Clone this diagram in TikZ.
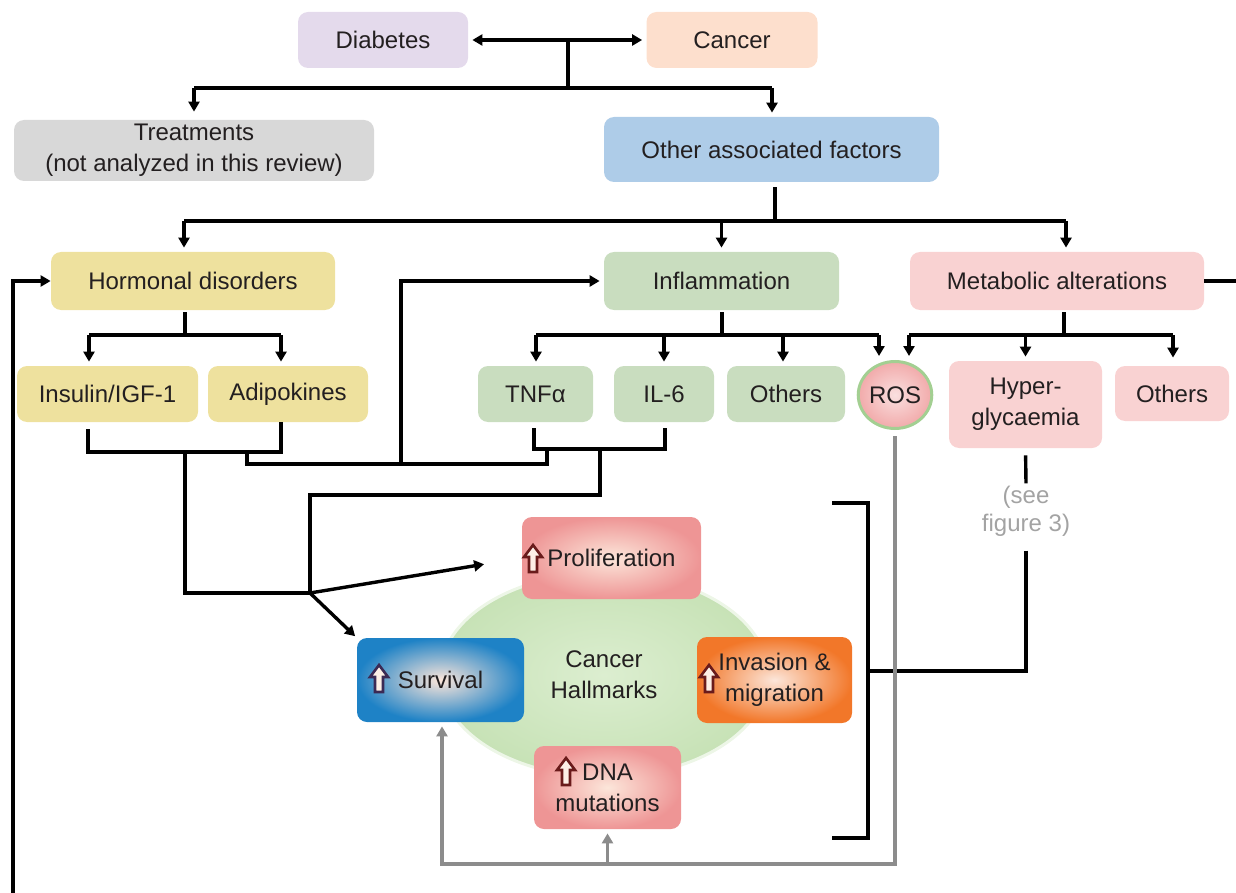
\documentclass[tikz,border=0pt]{standalone}
\usepackage{fontspec}
\setmainfont{Liberation Sans}
\usetikzlibrary{calc}
\usetikzlibrary{arrows.meta}
\usetikzlibrary{shapes.geometric}

\definecolor{txt}{HTML}{231F20}
\definecolor{diabc}{HTML}{E4DAEC}
\definecolor{cancc}{HTML}{FDDFCD}
\definecolor{treatc}{HTML}{D8D8D8}
\definecolor{otherc}{HTML}{AECCE8}
\definecolor{hormc}{HTML}{EEE19E}
\definecolor{inflc}{HTML}{C9DDBF}
\definecolor{metabc}{HTML}{F9D2D2}
\definecolor{rosline}{HTML}{A3CF92}
\definecolor{hallin}{HTML}{DCEED0}
\definecolor{hallout}{HTML}{C7E2B6}
\definecolor{pinkout}{HTML}{EE9595}
\definecolor{bluout}{HTML}{1E82C6}
\definecolor{orout}{HTML}{F27729}
\definecolor{palein}{HTML}{FCE6DA}
\definecolor{arrdark}{HTML}{6A1B1B}
\definecolor{arrpurp}{HTML}{3B2A55}
\definecolor{arrfill}{HTML}{FDEFE6}
\definecolor{gline}{HTML}{8C8C8C}
\definecolor{seec}{HTML}{A3A3A3}

\tikzset{
 box/.style={rounded corners=5pt, inner sep=0pt, align=center, text=txt, font=\fontsize{12}{15.5}\selectfont},
 mark box/.style={box, inner color=palein},
 conn/.style={black, line width=1.7pt},
 arr/.style={conn, -{Triangle[length=5pt,width=5.5pt]}, shorten >=2pt},
 gconn/.style={gline, line width=1.7pt},
 garr/.style={gconn, -{Triangle[length=5pt,width=5.5pt]}, shorten >=2pt},
 pics/uparr/.style 2 args={code={
  \filldraw[draw=#1, fill=#2, line width=1.3pt] (-4,13) -- (-4,-2) -- (-9,-2) -- (0,-14) -- (9,-2) -- (4,-2) -- (4,13) -- cycle;}}
}

\begin{document}
\begin{tikzpicture}[x=0.5pt, y=-0.5pt]
\useasboundingbox (0,0) rectangle (1236,893);

\node[ellipse, inner sep=0pt, minimum width=164pt, minimum height=102pt, inner color=hallin, outer color=hallout, draw=hallin!50!white, line width=1.5pt, text=txt, align=center, font=\fontsize{12}{15.5}\selectfont] (hall) at (604,675) {Cancer\\Hallmarks};

\node[box, fill=diabc, minimum width=85pt, minimum height=28pt] (diab) at (383,40) {Diabetes};
\node[box, fill=cancc, minimum width=85.5pt, minimum height=28pt] (canc) at (732,40) {Cancer};
\node[box, fill=treatc, minimum width=180pt, minimum height=30.5pt] (treat) at (194,150.5) {Treatments\\(not analyzed in this review)};
\node[box, fill=otherc, minimum width=167.5pt, minimum height=32.5pt] (other) at (771.5,149.5) {Other associated factors};
\node[box, fill=hormc, minimum width=142pt, minimum height=29pt] (horm) at (193,281) {Hormonal disorders};
\node[box, fill=inflc, minimum width=117.5pt, minimum height=29pt] (infl) at (721.5,281) {Inflammation};
\node[box, fill=metabc, minimum width=147pt, minimum height=29pt] (metab) at (1057,281) {Metabolic alterations};
\node[box, fill=hormc, minimum width=90.5pt, minimum height=28pt] (ins) at (107.5,394) {Insulin/IGF-1};
\node[box, fill=hormc, minimum width=80pt, minimum height=28pt] (adipo) at (288,394) {Adipokines};
\node[box, fill=inflc, minimum width=57.5pt, minimum height=28pt] (tnf) at (535.5,394) {TNFα};
\node[box, fill=inflc, minimum width=50pt, minimum height=28pt] (il6) at (664,394) {IL-6};
\node[box, fill=inflc, minimum width=59pt, minimum height=28pt] (othi) at (786,394) {Others};
\node[ellipse, inner sep=0pt, minimum width=30.5pt, minimum height=33.5pt, draw=rosline, line width=1.5pt, inner color=white!70!pinkout, outer color=pinkout!80!white, text=txt, font=\fontsize{12}{15.5}\selectfont] (ros) at (895,395) {ROS};
\node[box, fill=metabc, minimum width=76.5pt, minimum height=43.5pt] (hyper) at (1025.5,404.5) {Hyper-\\glycaemia};
\node[box, fill=metabc, minimum width=57pt, minimum height=27.5pt] (othm) at (1172,393.5) {Others};
\node[align=center, text=seec, inner sep=1pt, font=\fontsize{12}{14}\selectfont] (seefig) at (1026,511) {(see\\figure 3)};

\node[mark box, outer color=pinkout, minimum width=89.5pt, minimum height=41pt] (prolif) at (611.5,558) {Proliferation};
\node[mark box, outer color=bluout, minimum width=83.5pt, minimum height=42pt] (surv) at (440.5,680) {Survival};
\node[mark box, outer color=orout, minimum width=77.5pt, minimum height=43pt] (inva) at (774.5,680) {Invasion \&\\migration};
\node[mark box, outer color=pinkout, minimum width=73.5pt, minimum height=41.5pt] (dna) at (607.5,787.5) {DNA\\mutations};
\pic at (533,559) {uparr={arrdark}{arrfill}};
\pic at (379,679) {uparr={arrpurp}{arrfill}};
\pic at (709,679) {uparr={arrdark}{arrfill}};
\pic at (566,772) {uparr={arrdark}{arrfill}};

\coordinate (t0) at (568,40);
\coordinate (t1l) at (194,88);
\coordinate (t1r) at (772,88);
\draw[conn, {Triangle[length=5pt,width=5.5pt]}-{Triangle[length=5pt,width=5.5pt]}, shorten <=2pt, shorten >=2pt] (diab.east) -- (canc.west);
\draw[conn] (t0) -- (t0 |- t1l);
\draw[conn] (t1l) -- (t1r);
\draw[arr, shorten >=4pt] (t1l) -- (t1l |- treat.north);
\draw[arr] (t1r) -- (t1r |- other.north);

\coordinate (o1) at (775,221);
\coordinate (o1l) at (184,221);
\coordinate (o1r) at (1066,221);
\draw[conn, shorten <=2.5pt] (o1 |- other.south) -- (o1);
\draw[conn] (o1l) -- (o1r);
\draw[arr] (o1l) -- (o1l |- horm.north);
\draw[arr] (infl.north |- o1) -- (infl.north);
\draw[arr] (o1r) -- (o1r |- metab.north);

\coordinate (h1) at (185,335);
\coordinate (h1l) at (89,335);
\coordinate (h1r) at (281,335);
\draw[conn, shorten <=1pt] (h1 |- horm.south) -- (h1);
\draw[conn] (h1l) -- (h1r);
\draw[arr] (h1l) -- (h1l |- ins.north);
\draw[arr] (h1r) -- (h1r |- adipo.north);

\coordinate (i1) at (722,335);
\coordinate (i1l) at (536,335);
\coordinate (i1r) at (879,335);
\draw[conn, shorten <=1pt] (i1 |- infl.south) -- (i1);
\draw[conn] (i1l) -- (i1r);
\draw[arr] (i1l) -- (i1l |- tnf.north);
\draw[arr] (il6.north |- i1) -- (il6.north);
\draw[arr] (783,335) -- (783,0 |- othi.north);
\draw[arr] (i1r) -- (i1r |- ros.north);

\coordinate (m1) at (1064,335);
\coordinate (m1l) at (909,335);
\coordinate (m1r) at (1173,335);
\draw[conn, shorten <=1pt] (m1 |- metab.south) -- (m1);
\draw[conn] (m1l) -- (m1r);
\draw[arr] (m1l) -- (m1l |- ros.north);
\draw[arr] (hyper.north |- m1) -- (hyper.north);
\draw[arr, shorten >=4pt] (m1r) -- (m1r |- othm.north);

\coordinate (k1) at (88,452);
\coordinate (k2) at (281,452);
\coordinate (k3) at (185,452);
\coordinate (k5) at (247,452);
\coordinate (hub) at (310,593);
\draw[conn, shorten <=3.5pt] (k1 |- ins.south) -- (k1) -- (k2) -- (k2 |- adipo.south);
\draw[conn] (k3) |- (hub);

\coordinate (n1) at (534,449);
\coordinate (n2) at (665,449);
\coordinate (n3) at (547,449);
\coordinate (n4) at (401,464);
\coordinate (n5) at (600,449);
\draw[conn] (n1 |- tnf.south) ++(0,6) -- (n1) -- (n2) -- ++(0,-21);
\draw[conn] (n3) -- (n3 |- n4) -- (k5 |- n4) -- (k5);
\draw[arr] (n4) |- (infl.west);
\draw[conn] (n5) |- (hub |- 0,495) -- (hub);
\draw[arr, shorten >=19pt] (hub) -- (prolif.west);
\draw[arr, shorten >=1pt] (hub) -- (surv.north west);

\coordinate (lb) at (13,893);
\draw[arr, shorten >=0pt] (lb) |- (horm.west);
\coordinate (mr) at (1236,282);
\draw[conn] (metab.east) -- (metab.east -| mr);

\coordinate (br1) at (832,503);
\coordinate (br2) at (832,838);
\coordinate (brm) at (868,671);
\draw[conn] (br1) -| (brm) |- (br2);
\draw[conn, shorten <=3.5pt] (hyper.south) -- (seefig.north);
\draw[conn, shorten <=6pt] (seefig.south) |- (brm);

\coordinate (g1) at (895,864);
\draw[garr, shorten <=3pt] (ros.south) -- (ros.south |- g1) -| (442,0 |- surv.south);
\draw[garr] (dna.south |- g1) -- (dna.south);
\end{tikzpicture}
\end{document}
